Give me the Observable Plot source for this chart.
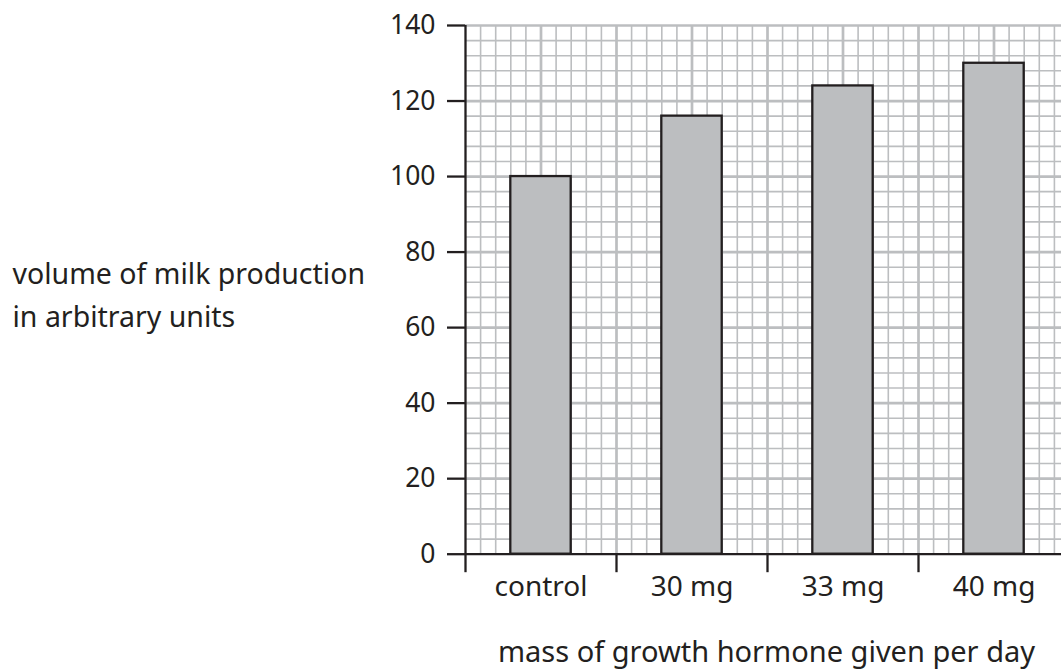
<!DOCTYPE html>
<html><head><meta charset="utf-8">
<script src="https://cdn.jsdelivr.net/npm/d3@7"></script>
<script src="https://cdn.jsdelivr.net/npm/@observablehq/plot@0.6"></script>
<style>
html,body{margin:0;padding:0;background:#fff;}
#chart{width:1061px;height:669px;overflow:hidden;}
</style></head><body><div id="chart"></div>
<script>
const categories = ["control", "30 mg", "33 mg", "40 mg"];
const values = [100, 116, 124, 130];
const yTicks = [0, 20, 40, 60, 80, 100, 120, 140];
const yLabel = "volume of milk production\nin arbitrary units";
const xLabel = "mass of growth hormone given per day";

const ink = "#231f20", gridGray = "#bcbec0", barFill = "#bcbec0";
const minorY = d3.range(0, 141, 4).filter(v => v % 20 !== 0);
const majorY = d3.range(20, 141, 20);
const minorX = d3.range(0, 41).filter(k => k % 5 !== 0).map(k => k / 10);
const majorX = d3.range(5, 41, 5).map(k => k / 10);

const plot = Plot.plot({
  width: 1061, height: 669,
  marginLeft: 465, marginRight: 0, marginTop: 25, marginBottom: 115.3,
  x: {type: "linear", domain: [0, 4], range: [465, 1069], axis: null},
  y: {domain: [0, 140], axis: null},
  style: {fontFamily: "'Noto Sans', sans-serif", color: ink, background: "#fff"},
  marks: [
    Plot.ruleX(minorX, {stroke: gridGray, strokeWidth: 1.6}),
    Plot.ruleY(minorY, {stroke: gridGray, strokeWidth: 1.6}),
    Plot.ruleX(majorX, {stroke: gridGray, strokeWidth: 2.7}),
    Plot.ruleY(majorY, {stroke: gridGray, strokeWidth: 2.7}),
    Plot.rect(categories, {x1: (d, i) => i + 0.3, x2: (d, i) => i + 0.7, y1: 0, y2: (d, i) => values[i], fill: barFill, stroke: ink, strokeWidth: 2.3}),
    Plot.ruleX([0], {stroke: ink, strokeWidth: 2.3}),
    Plot.ruleY([0], {stroke: ink, strokeWidth: 2.3}),
    Plot.axisY(yTicks, {tickSize: 18, tickPadding: 12, fontSize: 26.5, stroke: ink, strokeWidth: 2.3, fill: ink, label: null}),
    Plot.axisX([0, 1, 2, 3], {tickSize: 18.5, tickFormat: () => "", stroke: ink, strokeWidth: 2.3, label: null}),
    Plot.axisX(categories.map((d, i) => i + 0.5), {tickSize: 0, tickPadding: 21.5, tickFormat: d => categories[Math.floor(d)], fontSize: 28, fill: ink, label: null}),
    Plot.text([yLabel], {frameAnchor: "top-left", dx: 12 - 465, dy: 326 - 25, textAnchor: "start", lineAnchor: "bottom", lineHeight: 43 / 28.5, fontSize: 28.5, fill: ink}),
    Plot.text([xLabel], {frameAnchor: "bottom", dx: 3, dy: 107.3, textAnchor: "middle", lineAnchor: "bottom", fontSize: 29, fill: ink})
  ]
});
document.getElementById("chart").appendChild(plot);
</script></body></html>
